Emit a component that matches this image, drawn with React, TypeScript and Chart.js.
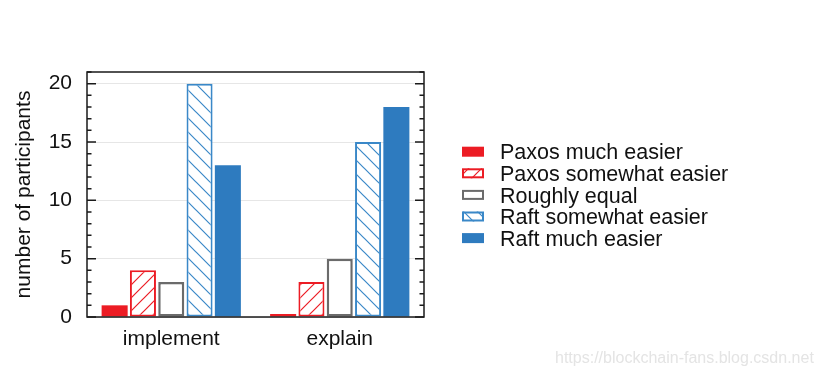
import React, { useEffect, useRef } from "react";
import { Chart, registerables } from "chart.js";

Chart.register(...registerables);

const categories = ["implement", "explain"];
const seriesLabels = [
  "Paxos much easier",
  "Paxos somewhat easier",
  "Roughly equal",
  "Raft somewhat easier",
  "Raft much easier",
];
const paxosMuch = [1, 0];
const paxosSomewhat = [4, 3];
const roughlyEqual = [3, 5];
const raftSomewhat = [20, 15];
const raftMuch = [13, 18];
const yTickValues = [0, 5, 10, 15, 20];
const yMajorStep = 5;
const yMax = 21;
const yTitle = "number of participants";
const watermark = "https://blockchain-fans.blog.csdn.net";

const RED = "#ec1c24";
const GREY = "#6b6b6b";
const BLUE = "#2e7bbf";
const BLUE_LINE = "#3a88c8";
const FONT = "'Liberation Sans', Arial, Helvetica, sans-serif";

function makeHatch(ctx: CanvasRenderingContext2D, color: string, forward: boolean, size: number) {
  const c = document.createElement("canvas");
  c.width = size;
  c.height = size;
  const g = c.getContext("2d")!;
  g.fillStyle = "#ffffff";
  g.fillRect(0, 0, size, size);
  g.strokeStyle = color;
  g.lineWidth = 1.2;
  g.beginPath();
  if (forward) {
    g.moveTo(-1, size + 1);
    g.lineTo(size + 1, -1);
    g.moveTo(-1, 1);
    g.lineTo(1, -1);
    g.moveTo(size - 1, size + 1);
    g.lineTo(size + 1, size - 1);
  } else {
    g.moveTo(-1, -1);
    g.lineTo(size + 1, size + 1);
    g.moveTo(size - 1, -1);
    g.lineTo(size + 1, 1);
    g.moveTo(-1, size - 1);
    g.lineTo(1, size + 1);
  }
  g.stroke();
  return ctx.createPattern(c, "repeat") as CanvasPattern;
}

const framePlugin = {
  id: "frameTicks",
  afterDraw(chart: any) {
    const { ctx, chartArea } = chart;
    const y = chart.scales.y;
    ctx.save();
    ctx.strokeStyle = "#1a1a1a";
    ctx.lineWidth = 1.5;
    ctx.strokeRect(chartArea.left, chartArea.top, chartArea.right - chartArea.left, chartArea.bottom - chartArea.top);
    ctx.beginPath();
    for (let v = 0; v <= Math.floor(yMax); v++) {
      const py = y.getPixelForValue(v);
      const len = v % yMajorStep === 0 ? 9 : 4.5;
      ctx.moveTo(chartArea.left, py);
      ctx.lineTo(chartArea.left + len, py);
      ctx.moveTo(chartArea.right, py);
      ctx.lineTo(chartArea.right - len, py);
    }
    ctx.stroke();
    ctx.restore();
  },
};

const legendPlugin = {
  id: "customLegend",
  afterDraw(chart: any) {
    const { ctx } = chart;
    const x0 = 462;
    const boxW = 22;
    const boxH = 10;
    const textX = 500;
    const firstBaseline = 159.3;
    const step = 21.6;
    ctx.save();
    ctx.font = `21.5px ${FONT}`;
    ctx.textBaseline = "alphabetic";
    ctx.textAlign = "left";
    chart.data.datasets.forEach((ds: any, i: number) => {
      const base = firstBaseline + i * step;
      const cy = base - 7.6;
      const top = cy - boxH / 2;
      ctx.fillStyle = ds.backgroundColor;
      ctx.fillRect(x0, top, boxW, boxH);
      if (ds.borderWidth > 0) {
        ctx.strokeStyle = ds.borderColor;
        ctx.lineWidth = 2;
        ctx.strokeRect(x0 + 1, top + 1, boxW - 2, boxH - 2);
      }
      ctx.fillStyle = "#111111";
      ctx.fillText(ds.label, textX, base);
    });
    ctx.font = `16px ${FONT}`;
    ctx.fillStyle = "#e4e4e4";
    ctx.textBaseline = "middle";
    ctx.fillText(watermark, 555, 359);
    ctx.restore();
  },
};

export default function App() {
  const ref = useRef<HTMLCanvasElement | null>(null);

  useEffect(() => {
    const canvas = ref.current!;
    const ctx = canvas.getContext("2d")!;
    const redHatch = makeHatch(ctx, RED, true, 13);
    const blueHatch = makeHatch(ctx, BLUE_LINE, false, 14);

    const chart = new Chart(canvas, {
      type: "bar",
      data: {
        labels: categories,
        datasets: [
          {
            label: seriesLabels[0],
            data: paxosMuch,
            backgroundColor: RED,
            borderColor: RED,
            borderWidth: 0,
            minBarLength: 3,
          },
          {
            label: seriesLabels[1],
            data: paxosSomewhat,
            backgroundColor: redHatch,
            borderColor: RED,
            borderWidth: 2,
            borderSkipped: false,
          },
          {
            label: seriesLabels[2],
            data: roughlyEqual,
            backgroundColor: "#ffffff",
            borderColor: GREY,
            borderWidth: 2.5,
            borderSkipped: false,
          },
          {
            label: seriesLabels[3],
            data: raftSomewhat,
            backgroundColor: blueHatch,
            borderColor: BLUE_LINE,
            borderWidth: 2,
            borderSkipped: false,
          },
          {
            label: seriesLabels[4],
            data: raftMuch,
            backgroundColor: BLUE,
            borderColor: BLUE,
            borderWidth: 0,
          },
        ] as any,
      },
      options: {
        animation: false,
        responsive: false,
        devicePixelRatio: 1,
        layout: { padding: { left: 0, top: 72, right: 404, bottom: 0 } },
        datasets: {
          bar: { barPercentage: 0.92, categoryPercentage: 0.84 },
        } as any,
        plugins: {
          legend: { display: false },
          tooltip: { enabled: false },
        },
        scales: {
          x: {
            type: "category",
            grid: { display: false, drawTicks: false },
            border: { display: false },
            ticks: {
              padding: 10,
              color: "#111111",
              font: { family: FONT, size: 21 },
            },
            afterFit: (scale: any) => {
              scale.height = 61;
            },
          },
          y: {
            type: "linear",
            min: 0,
            max: yMax,
            grid: { color: "#e6e6e6", lineWidth: 1, drawTicks: false },
            border: { display: false },
            ticks: {
              padding: 15,
              color: "#111111",
              autoSkip: false,
              font: { family: FONT, size: 21 },
            },
            afterBuildTicks: (scale: any) => {
              scale.ticks = yTickValues.map((v) => ({ value: v }));
            },
            afterFit: (scale: any) => {
              scale.width = 87;
            },
            title: {
              display: true,
              text: yTitle,
              color: "#111111",
              font: { family: FONT, size: 21 },
              padding: { top: 12, bottom: 0 },
            },
          },
        },
      },
      plugins: [framePlugin, legendPlugin],
    });
    return () => chart.destroy();
  }, []);

  return (
    <div style={{ position: "fixed", left: 0, top: 0, width: 828, height: 378, background: "#ffffff" }}>
      <canvas ref={ref} width={828} height={378} style={{ display: "block", width: 828, height: 378 }} />
    </div>
  );
}
